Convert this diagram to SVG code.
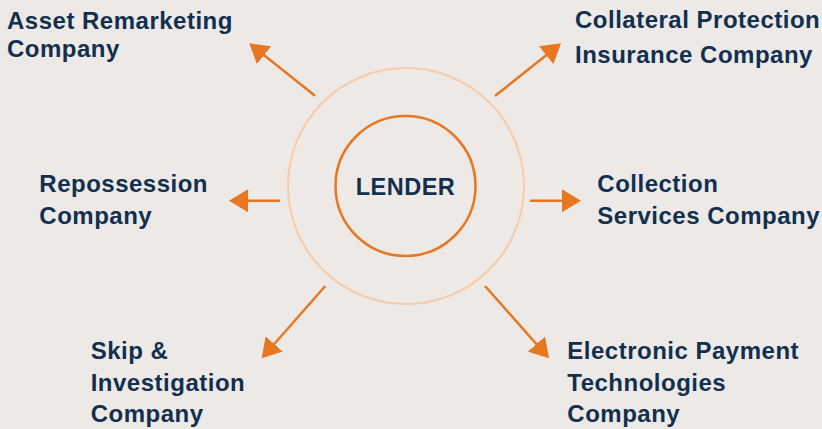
<svg xmlns="http://www.w3.org/2000/svg" width="822" height="429" viewBox="0 0 822 429">
<defs>
<marker id="ah" viewBox="0 0 19 23" refX="4" refY="11.5" markerWidth="19" markerHeight="23" markerUnits="userSpaceOnUse" orient="auto">
<path d="M0,0 L19,11.5 L0,23 Z" fill="#E87722"/>
</marker>
<style>
.lbl{font-family:"Liberation Sans",Arial,sans-serif;font-weight:bold;font-size:24px;letter-spacing:0.5px;fill:#12304E}
.conn line{stroke:#E87722;stroke-width:2.5;fill:none;marker-end:url(#ah)}
</style>
</defs>
<rect width="822" height="429" fill="#EDE9E6"/>
<g id="lender">
<circle cx="406" cy="186" r="118" fill="none" stroke="#F8CBA6" stroke-width="2"/>
<circle cx="405.5" cy="186" r="70" fill="none" stroke="#E87722" stroke-width="2.5"/>
<text class="lbl" x="405.5" y="195" text-anchor="middle" style="font-size:23.5px">LENDER</text>
</g>
<g class="conn" id="connectors">
<line x1="315" y1="95.7" x2="261" y2="52.7"/>
<line x1="495" y1="96" x2="549.3" y2="52.7"/>
<line x1="280" y1="200.7" x2="244" y2="200.7"/>
<line x1="530" y1="200.7" x2="566" y2="200.7"/>
<line x1="325.3" y1="286" x2="271.6" y2="347"/>
<line x1="485" y1="286" x2="539.1" y2="347.1"/>
</g>
<g id="asset">
<text class="lbl" x="7" y="29.3">Asset Remarketing</text>
<text class="lbl" x="7" y="57.3">Company</text>
</g>
<g id="collateral">
<text class="lbl" x="575" y="28.3">Collateral Protection</text>
<text class="lbl" x="575" y="62.5">Insurance Company</text>
</g>
<g id="repossession">
<text class="lbl" x="39.3" y="192.3">Repossession</text>
<text class="lbl" x="39.3" y="224.3">Company</text>
</g>
<g id="collection">
<text class="lbl" x="597.3" y="192.3">Collection</text>
<text class="lbl" x="597.3" y="224.3">Services Company</text>
</g>
<g id="skip">
<text class="lbl" x="90.7" y="358.5">Skip &amp;</text>
<text class="lbl" x="90.7" y="391.3">Investigation</text>
<text class="lbl" x="90.7" y="422">Company</text>
</g>
<g id="electronic">
<text class="lbl" x="567.3" y="358.5">Electronic Payment</text>
<text class="lbl" x="567.3" y="391.3">Technologies</text>
<text class="lbl" x="567.3" y="422">Company</text>
</g>
</svg>
